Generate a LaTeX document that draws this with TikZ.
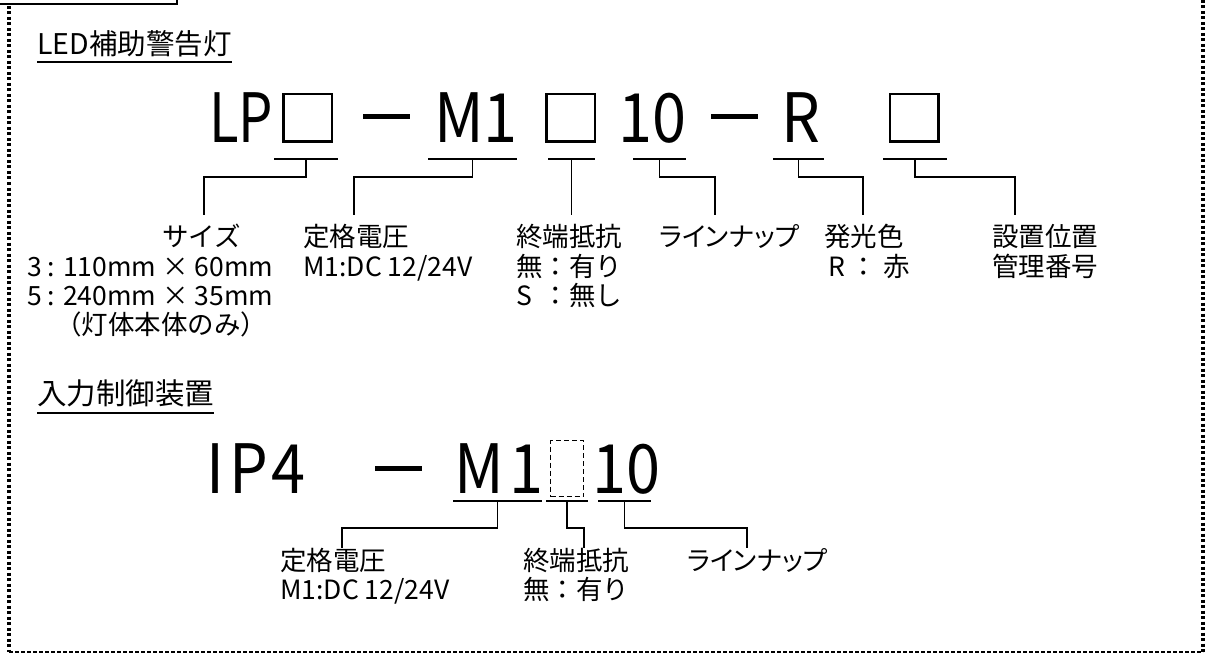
\documentclass[tikz,border=0pt]{standalone}
\usepackage{fontspec}
\setmainfont{Noto Sans CJK JP}
\newfontfamily\codefont[FakeStretch=0.9]{Noto Sans CJK JP}
\newfontfamily\codefontn[FakeStretch=0.8]{Noto Sans CJK JP}
\newfontfamily\paltfont[RawFeature=+palt]{Noto Sans CJK JP}
\usetikzlibrary{calc}
\begin{document}
\begin{tikzpicture}[x=1pt,y=-1pt,
  lbl/.style={inner sep=0pt, anchor=base west, font=\fontsize{26.5}{30}\selectfont},
  plbl/.style={inner sep=0pt, anchor=base west, font=\paltfont\fontsize{26.5}{30}\selectfont},
  ttl/.style={inner sep=0pt, anchor=base west, font=\fontsize{28.5}{32}\selectfont},
  code/.style={inner sep=0pt, anchor=base west, font=\codefont\fontsize{68}{70}\selectfont},
  coden/.style={inner sep=0pt, anchor=base west, font=\codefontn\fontsize{68}{70}\selectfont},
  conn/.style={line width=1.8pt},
  uline/.style={line width=2pt},
  codebox/.style={draw, line width=2.5pt, inner sep=0pt, minimum width=48.5pt, minimum height=47.5pt},
  dbox/.style={draw, dash pattern=on 5pt off 3pt, line width=1.3pt, inner sep=0pt, minimum width=33pt, minimum height=56pt},
  bar/.style={fill, inner sep=0pt, minimum width=47pt, minimum height=5pt},
  dotframe/.style={line width=3.5pt, dash pattern=on 3pt off 2.5pt},
]
\useasboundingbox (0,0) rectangle (1206,655);
% frame
\draw[dotframe] (9,6) -- (9,652);
\draw[dotframe] (1203,0) -- (1203,652);
\draw[line width=1.3pt, dash pattern=on 4pt off 2pt] (9,652) -- (1203,652);
\draw[line width=2pt] (0,4) -- (177,4) -- (177,-1);

% ---------- section 1 ----------
\node[ttl] (t1) at (37,55) {LED補助警告灯};
\draw[uline] ($(t1.base west)+(0,7)$) -- ($(t1.base east)+(0,7)$);

\node[coden] (lp) at (209,143) {LP};
\node[codebox] (b1) at (307.5,118) {};
\node[bar] (d1) at (386.5,117) {};
\node[code] (m1) at (434,143) {M1};
\node[codebox] (b2) at (570.5,118) {};
\node[code] (ten) at (618,143) {10};
\node[bar] (d2) at (734,117) {};
\node[code] (r) at (781,143) {R};
\node[codebox] (b3) at (914,118) {};

% underlines
\coordinate (u1) at (306,159);
\coordinate (u2) at (472.5,159);
\coordinate (u3) at (571.5,159);
\coordinate (u4) at (659.5,159);
\coordinate (u5) at (798.5,159);
\coordinate (u6) at (915,159);
\draw[uline] ($(u1)+(-32,0)$) -- ($(u1)+(32,0)$);
\draw[uline] ($(u2)+(-44.5,0)$) -- ($(u2)+(44.5,0)$);
\draw[uline] ($(u3)+(-23.5,0)$) -- ($(u3)+(23.5,0)$);
\draw[uline] ($(u4)+(-26.5,0)$) -- ($(u4)+(26.5,0)$);
\draw[uline] ($(u5)+(-25.5,0)$) -- ($(u5)+(25.5,0)$);
\draw[uline] ($(u6)+(-32,0)$) -- ($(u6)+(32,0)$);

\coordinate (e1) at (204,215);
\coordinate (e2) at (354,215);
\coordinate (e3) at (571.5,215);
\coordinate (e4) at (715,215);
\coordinate (e5) at (863,215);
\coordinate (e6) at (1015,215);
\draw[conn] (u1) -- ++(0,18) -| (e1);
\draw[conn] (u2) -- ++(0,18) -| (e2);
\draw[conn] (u3) -- (e3);
\draw[conn] (u4) -- ++(0,18) -| (e4);
\draw[conn] (u5) -- ++(0,18) -| (e5);
\draw[conn] (u6) -- ++(0,18) -| (e6);

% labels
\node[lbl] (s1) at (162,246) {サイズ};
\node[lbl] (s2) at (27,276) {3 : 110mm × 60mm};
\node[lbl] (s3) at (27,305) {5 : 240mm × 35mm};
\node[lbl] (s4) at (55,334) {（灯体本体のみ）};
\node[lbl] (v1) at (303,246) {定格電圧};
\node[lbl] (v2) at (303,276) {M1:DC 12/24V};
\node[lbl] (k1) at (516,246) {終端抵抗};
\node[lbl] (k2) at (516,276) {無：有り};
\node[lbl] (k3) at (516,305) {\makebox[26.5pt][l]{S }：無し};
\node[plbl] (n1) at (659,246) {ラインナップ};
\node[lbl] (c1) at (824,246) {発光色};
\node[lbl] (c2) at (828,276) {R ： 赤};
\node[lbl] (p1) at (992,246) {設置位置};
\node[lbl] (p2) at (992,276) {管理番号};

% ---------- section 2 ----------
\node[ttl, font=\fontsize{29.5}{32}\selectfont] (t2) at (37,404) {入力制御装置};
\draw[uline] ($(t2.base west)+(0,9)$) -- ($(t2.base east)+(0,9)$);

\node[code] (ip) at (206,493) {I\kern5pt P\kern4pt 4};
\node[bar] (d3) at (398.5,468) {};
\node[code] (m2) at (454,493) {M\kern6pt 1};
\node[dbox] (b4) at (567,468.5) {};
\node[code] (ten2) at (592,493) {10};

\coordinate (u7) at (497.5,501);
\coordinate (u8) at (567,501);
\coordinate (u9) at (624.5,501);
\draw[uline] ($(u7)+(-44.5,0)$) -- ($(u7)+(44.5,0)$);
\draw[uline] ($(u8)+(-21,0)$) -- ($(u8)+(21,0)$);
\draw[uline] ($(u9)+(-26.5,0)$) -- ($(u9)+(26.5,0)$);

\coordinate (e7) at (342,548);
\coordinate (e8) at (584,548);
\coordinate (e9) at (747,548);
\draw[conn] (u7) -- ++(0,27) -| (e7);
\draw[conn] (u8) -- ++(0,27) -| (e8);
\draw[conn] (u9) -- ++(0,27) -| (e9);

\node[lbl] (w1) at (280,570) {定格電圧};
\node[lbl] (w2) at (280,599) {M1:DC 12/24V};
\node[lbl] (x1) at (523,570) {終端抵抗};
\node[lbl] (x2) at (523,599) {無：有り};
\node[plbl] (y1) at (687,570) {ラインナップ};
\end{tikzpicture}
\end{document}
